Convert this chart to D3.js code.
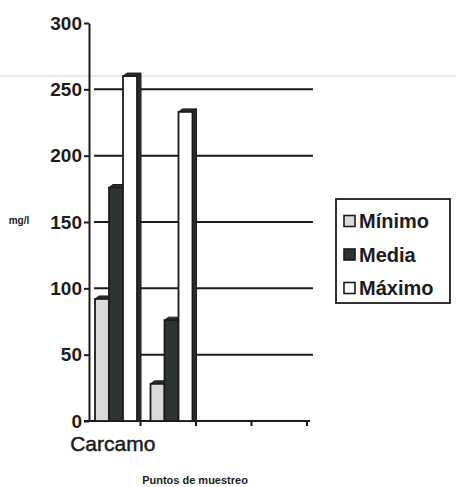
<!DOCTYPE html>
<html>
<head>
<meta charset="utf-8">
<script src="https://cdn.jsdelivr.net/npm/d3@7"></script>
<style>
  html, body { margin: 0; padding: 0; background: #ffffff; }
  svg { display: block; }
  text { font-family: "Liberation Sans", Arial, sans-serif; fill: #1c1c1c; }
</style>
</head>
<body>
<svg id="chart" width="456" height="487"></svg>
<script>
// Sampling points (only the first one carries a label on the axis)
const categories = ["Carcamo", "", "", ""];
// Series names as shown in the legend
const seriesNames = ["Mínimo", "Media", "Máximo"];
// Values in mg/l per sampling point, one array per series
const minimo = [92, 28];
const media  = [176, 76];
const maximo = [260, 233];
// Value-axis ticks
const yTicks = [0, 50, 100, 150, 200, 250, 300];

const seriesValues = [minimo, media, maximo];
const faceFill = ["#dadada", "#2b3631", "#ffffff"];
const ink = "#1b1b1b";

const svg = d3.select("#chart");

// faint horizontal rule running across the sheet
svg.append("line")
  .attr("x1", 0).attr("x2", 456).attr("y1", 76).attr("y2", 76)
  .attr("stroke", "#dcd6f2").attr("stroke-width", 1.2);

const y = d3.scaleLinear().domain([0, 300]).range([421, 23]);
const x0 = d3.scaleBand().domain(d3.range(categories.length)).range([85, 307]).padding(0);
const x1 = d3.scaleBand().domain(d3.range(seriesNames.length)).range([10, 52]).padding(0);
const depthX = 4, depthY = 3;

// back-wall gridlines
svg.append("g").selectAll("line")
  .data(yTicks.filter(v => v > 0 && v < 300))
  .join("line")
  .attr("x1", 94).attr("x2", 313)
  .attr("y1", d => y(d)).attr("y2", d => y(d))
  .attr("stroke", ink).attr("stroke-width", 2);

// value axis
const yAxis = svg.append("g")
  .attr("transform", "translate(89,0)")
  .call(d3.axisLeft(y).tickValues(yTicks).tickSizeInner(5).tickSizeOuter(0).tickPadding(2));
yAxis.select(".domain").attr("stroke", ink).attr("stroke-width", 2);
yAxis.selectAll(".tick line").attr("stroke", ink).attr("stroke-width", 2);
yAxis.selectAll(".tick text")
  .style("font-family", "'Liberation Sans', Arial, sans-serif")
  .style("font-size", "19px").style("font-weight", "bold").attr("fill", "#1c1c1c");

// category baseline with ticks at band boundaries
svg.append("line")
  .attr("x1", 84).attr("x2", 310).attr("y1", y(0)).attr("y2", y(0))
  .attr("stroke", ink).attr("stroke-width", 2);
svg.append("g").selectAll("line")
  .data(d3.range(categories.length))
  .join("line")
  .attr("x1", d => x0(d) + x0.bandwidth()).attr("x2", d => x0(d) + x0.bandwidth())
  .attr("y1", y(0)).attr("y2", y(0) + 5)
  .attr("stroke", ink).attr("stroke-width", 2);

// category labels
svg.append("g").selectAll("text")
  .data(categories)
  .join("text")
  .attr("x", (d, i) => x0(i) + x0.bandwidth() / 2)
  .attr("y", 451)
  .attr("text-anchor", "middle")
  .style("font-size", "21px")
  .attr("stroke", "#1c1c1c").attr("stroke-width", 0.5)
  .text(d => d);

// bars: front face, dark right side and dark top
const bars = [];
seriesValues.forEach((vals, s) => {
  vals.forEach((v, c) => bars.push({ s, c, v }));
});
bars.sort((a, b) => a.c - b.c || a.s - b.s);

const barG = svg.append("g");
bars.forEach(d => {
  const bx = x0(d.c) + x1(d.s);
  const w = x1.bandwidth();
  const top = y(d.v);
  const base = y(0);
  const g = barG.append("g");
  // right side
  g.append("path")
    .attr("d", `M${bx + w},${top} L${bx + w + depthX},${top - depthY} L${bx + w + depthX},${base} L${bx + w},${base} Z`)
    .attr("fill", "#2a2f2c").attr("stroke", ink).attr("stroke-width", 1);
  // top
  g.append("path")
    .attr("d", `M${bx},${top} L${bx + depthX},${top - depthY} L${bx + w + depthX},${top - depthY} L${bx + w},${top} Z`)
    .attr("fill", "#2a2f2c").attr("stroke", ink).attr("stroke-width", 1);
  // front
  g.append("rect")
    .attr("x", bx).attr("y", top)
    .attr("width", w).attr("height", base - top)
    .attr("fill", faceFill[d.s])
    .attr("stroke", ink).attr("stroke-width", 1.8);
});

// axis titles
svg.append("text")
  .attr("x", 19).attr("y", 224)
  .attr("text-anchor", "middle")
  .style("font-size", "10px").style("font-weight", "bold")
  .text("mg/l");

svg.append("text")
  .attr("x", 195).attr("y", 484)
  .attr("text-anchor", "middle")
  .style("font-size", "11px").style("font-weight", "bold")
  .text("Puntos de muestreo");

// legend
const legend = svg.append("g");
legend.append("rect")
  .attr("x", 336).attr("y", 199).attr("width", 114).attr("height", 104)
  .attr("fill", "#ffffff").attr("stroke", ink).attr("stroke-width", 1.8);
const legY = d3.scalePoint().domain(seriesNames).range([221, 288]);
const item = legend.selectAll("g.item")
  .data(seriesNames)
  .join("g").attr("class", "item")
  .attr("transform", d => `translate(0,${legY(d)})`);
item.append("rect")
  .attr("x", 344).attr("y", -5.5).attr("width", 11).attr("height", 11)
  .attr("fill", (d, i) => faceFill[i])
  .attr("stroke", ink).attr("stroke-width", 1.6);
item.append("text")
  .attr("x", 359).attr("y", 7)
  .style("font-size", "20px").style("font-weight", "bold")
  .text(d => d);
</script>
</body>
</html>
